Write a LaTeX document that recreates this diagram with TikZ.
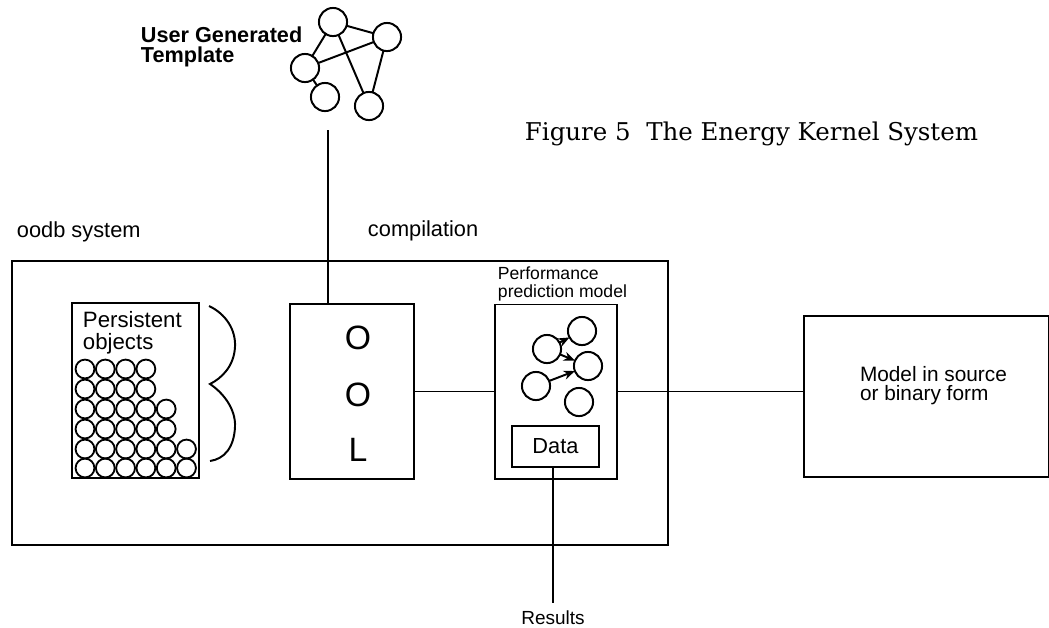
\documentclass[tikz,border=0pt]{standalone}
\usepackage{fontspec}
\setmainfont{Liberation Sans}
\newfontfamily\titlefont{DejaVu Serif}
\usetikzlibrary{arrows.meta}
\begin{document}
\begin{tikzpicture}[x=0.025cm,y=-0.025cm,line width=1.4pt]
\tikzstyle{box} = [rectangle, draw=black, inner sep=0pt, outer sep=0pt]
\tikzstyle{round} = [circle, draw=black, minimum size=20pt, inner sep=0pt, outer sep=0pt, line width=1.4pt]
\tikzstyle{ball} = [circle, draw=black, minimum size=13.4pt, inner sep=0pt, outer sep=0pt, line width=1.3pt]
\tikzstyle{arrow} = [-{Stealth[length=8pt,width=6.5pt]}]
\tikzstyle{small} = [inner sep=0pt, align=left, font=\fontsize{15.5}{15.5}\selectfont]
\tikzstyle{big} = [inner sep=0pt, font=\fontsize{24}{24}\selectfont]
\useasboundingbox (0,0) rectangle (1049,627);

%boxes
\node (SYS) [box, minimum width=16.4cm, minimum height=7.1cm] at (340,403) {};
\node (POB) [box, minimum width=3.175cm, minimum height=4.375cm] at (135.5,390.5) {};
\node (OOL) [box, minimum width=3.1cm, minimum height=4.375cm] at (352,391.5) {};
\node (PPM) [box, minimum width=3.05cm, minimum height=4.35cm] at (556,391.5) {};
\node (DAT) [box, minimum width=2.175cm, minimum height=1.025cm, font=\fontsize{15.5}{15.5}\selectfont] at (555.5,446.5) {Data};
\node (MOD) [box, minimum width=6.125cm, minimum height=4.025cm] at (926.5,396.5) {};

%labels
\node (LUG) [small, anchor=north west, font=\fontsize{15.4}{14}\selectfont\bfseries] at (140,26) {User Generated\\Template};
\node (LOO) [small, anchor=base west] at (16,237) {oodb system};
\node (LCO) [small, anchor=base west] at (367,236) {compilation};
\node (LPO) [small, anchor=north west, font=\fontsize{15.8}{16}\selectfont] at (82,310) {Persistent\\objects};
\node (LPP) [small, anchor=south west, font=\fontsize{12.5}{12.5}\selectfont] at (497,302) {Performance\\prediction model};
\node (LMO) [small, anchor=north west, font=\fontsize{14.8}{13.6}\selectfont] at (859,365) {Model in source\\or binary form};
\node (LRE) [small, font=\fontsize{13.5}{13.5}\selectfont] at (553,618) {Results};
\node (TTL) [inner sep=0pt, anchor=base west, font=\titlefont\fontsize{17.4}{17.4}\selectfont] at (524,140) {Figure 5\ \ The Energy Kernel System};

%letters
\node (LO1) [big] at (358,338) {O};
\node (LO2) [big] at (358,395) {O};
\node (LL) [big] at (358,450) {L};

%template graph
\node (T1) [round] at (333,22) {};
\node (T2) [round] at (387,37) {};
\node (T3) [round] at (305,68) {};
\node (T4) [round] at (325,97) {};
\node (T5) [round] at (369,106) {};
\draw (T1) -- (T2);
\draw (T1) -- (T3);
\draw (T3) -- (T2);
\draw (T3) -- (T4);
\draw (T1) -- (T5);
\draw (T2) -- (T5);

%prediction graph
\node (P1) [round] at (582,331) {};
\node (P2) [round] at (547,349) {};
\node (P3) [round] at (588,366) {};
\node (P4) [round] at (536,386) {};
\node (P5) [round] at (579,402) {};
\draw [arrow] (P2) -- (P1);
\draw [arrow] (P2) -- (P3);
\draw [arrow] (P4) -- (P3);

%persistent objects
\foreach \y/\n in {369/4,389/4,409/5,429/5,449/6,468/6}
  \foreach \i in {1,...,\n}
    \node (B\y-\i) [ball] at ({85+20.3*(\i-1)},\y) {};

%brace
\coordinate (BR1) at (209,306);
\coordinate (BR2) at (210,384);
\coordinate (BR3) at (210,461);
\draw (BR1) .. controls (226,314) and (236,330) .. (235,347)
  .. controls (234,366) and (222,378) .. (BR2)
  .. controls (222,392) and (236,408) .. (235,427)
  .. controls (234,448) and (224,459) .. (BR3);

%lines
\coordinate (TOP) at (328,130);
\coordinate (RES) at (553,603);
\draw (TOP) -- (TOP |- OOL.north);
\draw (OOL.east) -- (OOL.east -| PPM.west);
\draw (PPM.east) -- (PPM.east -| MOD.west);
\draw (DAT.south -| RES) -- (RES);
\end{tikzpicture}
\end{document}
